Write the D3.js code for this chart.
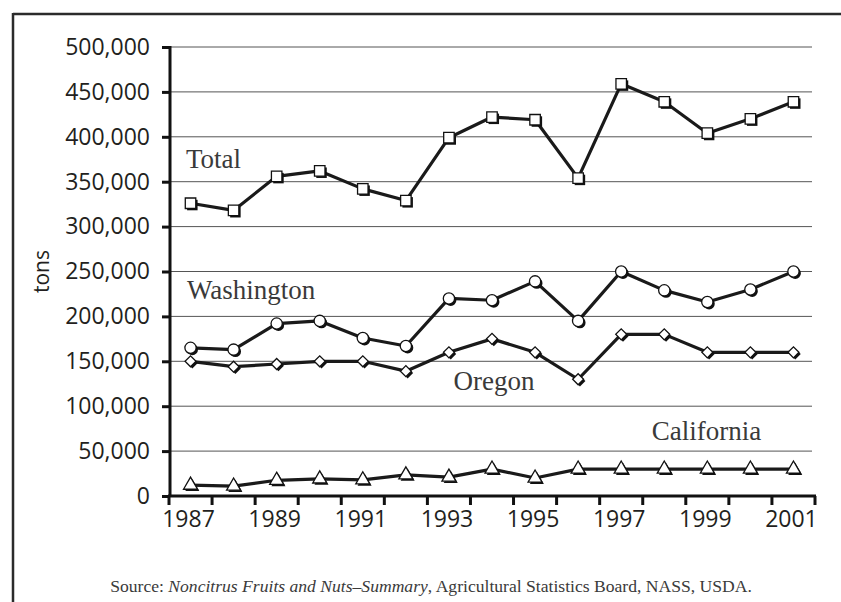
<!DOCTYPE html>
<html>
<head>
<meta charset="utf-8">
<script src="https://cdn.jsdelivr.net/npm/d3@7"></script>
<style>
    html, body { margin: 0; padding: 0; background: #fff; }
    svg { display: block; }
    .tick-label { font-family: 'Open Sans', sans-serif; font-size: 23px; fill: #231f20; }
    .series-label { font-family: 'Liberation Serif', serif; font-size: 27px; fill: #3a3a3a; }
</style>
</head>
<body>
<div id="chart"></div>
<script>
// --- Data ---
const YEARS = d3.range(1987, 2002);
const TOTAL = [326000, 318000, 356000, 362000, 342000, 329000, 399000, 422000, 419000, 354000, 459000, 439000, 404000, 420000, 439000];
const WASHINGTON = [165000, 163000, 192000, 195000, 176000, 167000, 220000, 218000, 239000, 195000, 250000, 229000, 216000, 230000, 250000];
const OREGON = [150000, 144000, 147000, 150000, 150000, 139000, 160000, 175000, 160000, 130000, 180000, 180000, 160000, 160000, 160000];
const CALIFORNIA = [12000, 11000, 17500, 19000, 18000, 23500, 21000, 30000, 20000, 30000, 30000, 30000, 30000, 30000, 30000];
const Y_TICKS = [0, 50000, 100000, 150000, 200000, 250000, 300000, 350000, 400000, 450000, 500000];
const X_LABELS = [1987, 1989, 1991, 1993, 1995, 1997, 1999, 2001];

const SERIES = [
    { name: 'Total', values: TOTAL, symbol: d3.symbolSquare, size: 110, rotate: 0 },
    { name: 'Washington', values: WASHINGTON, symbol: d3.symbolCircle, size: 100, rotate: 0 },
    { name: 'Oregon', values: OREGON, symbol: d3.symbolSquare, size: 60, rotate: 45 },
    { name: 'California', values: CALIFORNIA, symbol: d3.symbolTriangle, size: 85, rotate: 0 }
];

// where each series name sits: [year, value] in data space
const LABELS = [
    { text: 'Total', year: 1987, value: 365000, dx: 17 },
    { text: 'Washington', year: 1987, value: 219500, dx: 18 },
    { text: 'Oregon', year: 1995, value: 118000, dx: -60 },
    { text: 'California', year: 1998, value: 62000, dx: 9 }
];

const W = 841, H = 602;

const svg = d3.select('#chart').append('svg')
    .attr('width', W)
    .attr('height', H);

// --- Scales ---
const x = d3.scaleBand()
    .domain(YEARS)
    .range([169, 815]);

const y = d3.scaleLinear()
    .domain([0, 500000])
    .range([496, 47]);

const cx = d => x(d) + x.bandwidth() / 2;

// --- Frame ---
svg.append('line')
    .attr('x1', 13).attr('x2', W)
    .attr('y1', 14).attr('y2', 14)
    .attr('stroke', '#2b2b2b')
    .attr('stroke-width', 2.5);

svg.append('line')
    .attr('x1', 13).attr('x2', 13)
    .attr('y1', 13).attr('y2', H)
    .attr('stroke', '#2b2b2b')
    .attr('stroke-width', 2.5);

// --- Gridlines ---
svg.selectAll('.grid')
    .data(Y_TICKS.filter(d => d > 0))
    .enter().append('line')
    .attr('x1', 170).attr('x2', 812)
    .attr('y1', d => y(d)).attr('y2', d => y(d))
    .attr('stroke', '#555')
    .attr('stroke-width', 1);

// --- Y axis ---
const yAxis = svg.append('g')
    .attr('transform', 'translate(170,0)')
    .call(d3.axisLeft(y).tickValues(Y_TICKS).tickSize(8).tickPadding(12).tickFormat(d3.format(',')));

yAxis.select('.domain').remove();
yAxis.selectAll('.tick line').attr('stroke', '#111').attr('stroke-width', 3);
yAxis.selectAll('.tick text')
    .attr('class', 'tick-label')
    .attr('font-family', null).attr('font-size', null);

svg.append('line')
    .attr('x1', 170).attr('x2', 170)
    .attr('y1', y(500000) - 1).attr('y2', y(0) + 1)
    .attr('stroke', '#111')
    .attr('stroke-width', 3);

svg.append('text')
    .attr('class', 'tick-label')
    .attr('transform', `translate(49,${(y(0) + y(500000)) / 2}) rotate(-90)`)
    .attr('text-anchor', 'middle')
    .style('font-size', '21px')
    .text('tons');

// --- X axis ---
svg.append('line')
    .attr('x1', x(YEARS[0]) - 1).attr('x2', x(YEARS[YEARS.length - 1]) + x.bandwidth() + 1)
    .attr('y1', y(0)).attr('y2', y(0))
    .attr('stroke', '#111')
    .attr('stroke-width', 3);

const bounds = YEARS.map(d => x(d)).concat([x(YEARS[YEARS.length - 1]) + x.bandwidth()]);
svg.selectAll('.xtick')
    .data(bounds)
    .enter().append('line')
    .attr('x1', d => d).attr('x2', d => d)
    .attr('y1', y(0)).attr('y2', y(0) + 9)
    .attr('stroke', '#111')
    .attr('stroke-width', 3);

svg.selectAll('.xlabel')
    .data(X_LABELS)
    .enter().append('text')
    .attr('class', 'tick-label')
    .attr('x', d => cx(d) - 2)
    .attr('y', 527)
    .attr('text-anchor', 'middle')
    .text(d => d);

// --- Series ---
const line = d3.line()
    .x((d, i) => cx(YEARS[i]))
    .y(d => y(d));

SERIES.forEach(s => {
    svg.append('path')
        .datum(s.values)
        .attr('d', line)
        .attr('fill', 'none')
        .attr('stroke', '#1a1a1a')
        .attr('stroke-width', 3.2)
        .attr('stroke-linejoin', 'round');

    const sym = d3.symbol().type(s.symbol).size(s.size);

    // dark drop shadow under each marker
    svg.selectAll(null)
        .data(s.values)
        .enter().append('path')
        .attr('d', sym)
        .attr('transform', (d, i) => `translate(${cx(YEARS[i]) + 1.8},${y(d) + 1.8}) rotate(${s.rotate})`)
        .attr('fill', '#111');

    svg.selectAll(null)
        .data(s.values)
        .enter().append('path')
        .attr('d', sym)
        .attr('transform', (d, i) => `translate(${cx(YEARS[i])},${y(d)}) rotate(${s.rotate})`)
        .attr('fill', '#fff')
        .attr('stroke', '#111')
        .attr('stroke-width', 1.3);
});

// --- Series names ---
svg.selectAll('.series-label')
    .data(LABELS)
    .enter().append('text')
    .attr('class', 'series-label')
    .attr('x', d => x(d.year) + d.dx)
    .attr('y', d => y(d.value))
    .text(d => d.text);

// --- Source note ---
const note = svg.append('text')
    .attr('x', 431)
    .attr('y', 592)
    .attr('text-anchor', 'middle')
    .attr('font-family', 'Liberation Serif, serif')
    .attr('font-size', 17.6)
    .attr('fill', '#3a3a3a');

note.append('tspan').text('Source: ');
note.append('tspan').attr('font-style', 'italic').text('Noncitrus Fruits and Nuts\u2013Summary');
note.append('tspan').text(', Agricultural Statistics Board, NASS, USDA.');
</script>
</body>
</html>
